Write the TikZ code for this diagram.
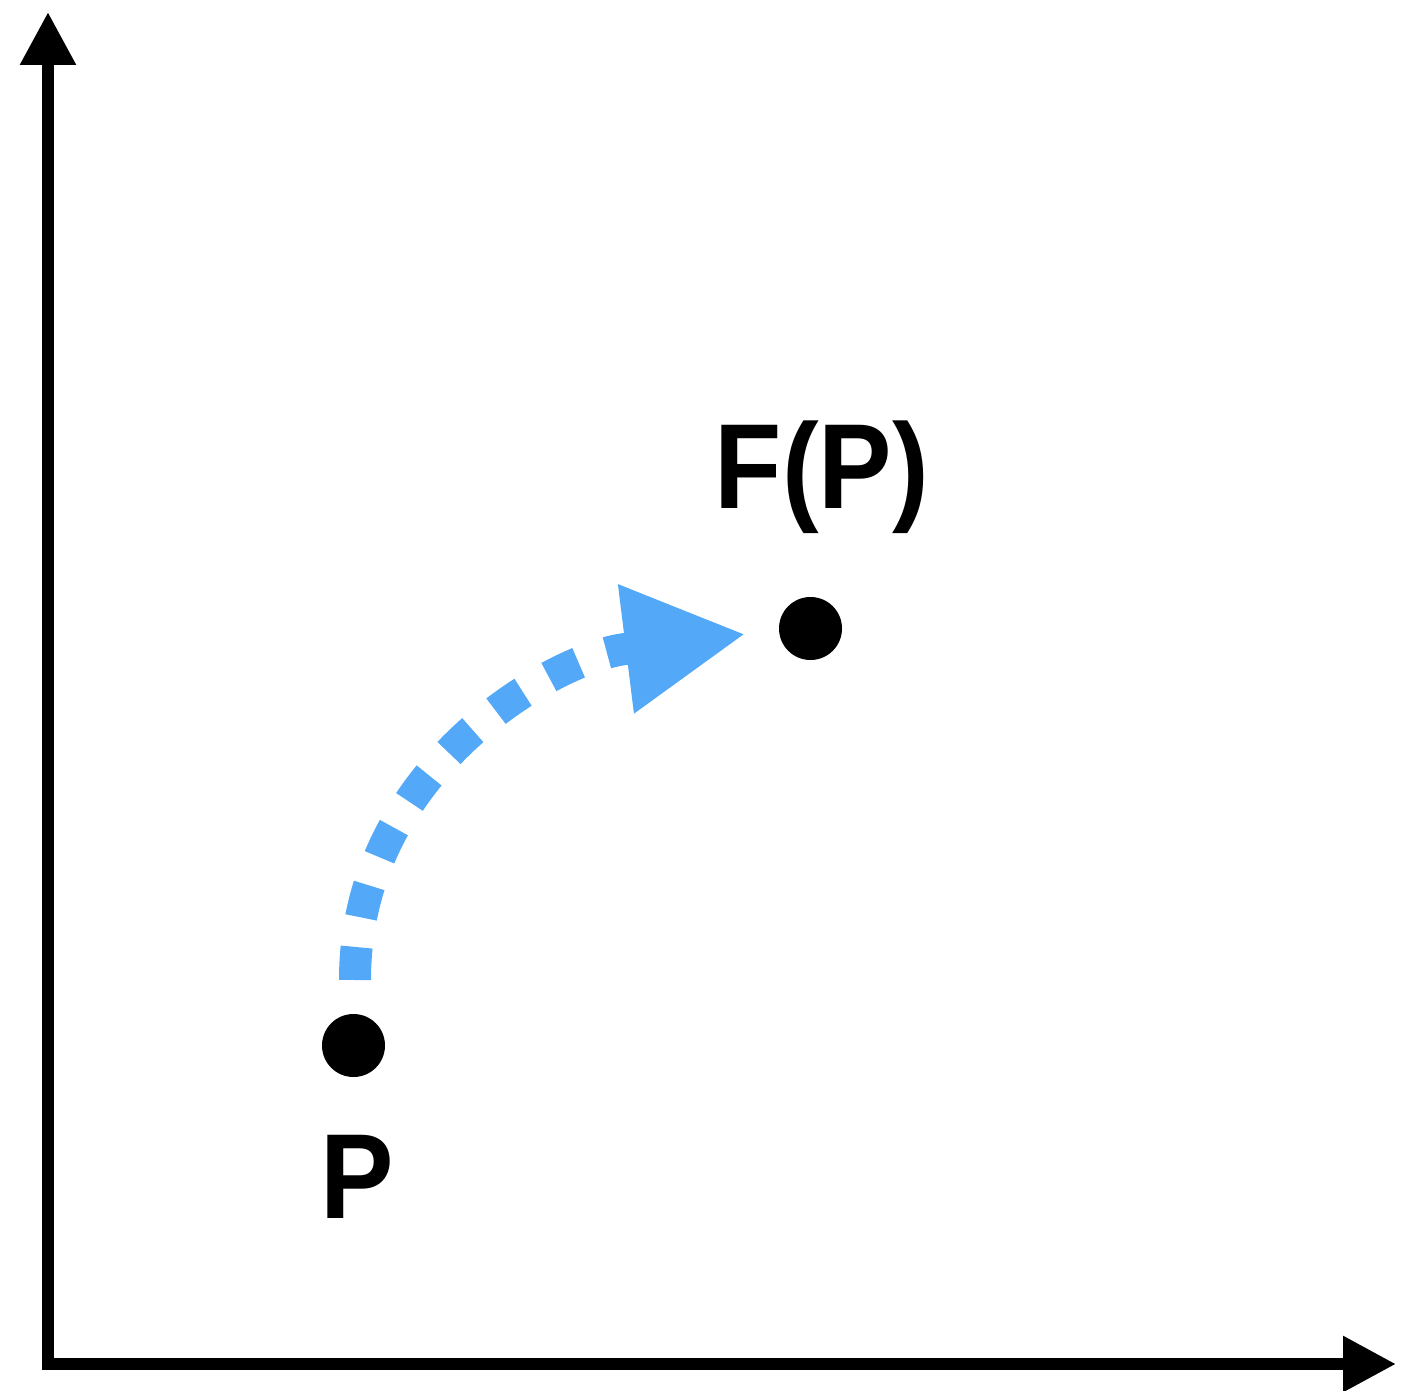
\documentclass[tikz,border=0pt]{standalone}
\usepackage{fontspec}
\setmainfont{Liberation Sans}
\newfontfamily\lblfont[FakeStretch=0.91]{Liberation Sans}
\usetikzlibrary{arrows.meta}
\definecolor{arcblue}{RGB}{84,168,248}
\begin{document}
\begin{tikzpicture}[x=1pt,y=-1pt,
  axis/.style={line width=12pt, -{Triangle[length=53pt,width=53pt]}},
  dot/.style={circle, fill=black, minimum size=63pt, inner sep=0pt},
  lbl/.style={font=\lblfont\bfseries\fontsize{121}{124}\selectfont, anchor=base, inner sep=0pt},
  flow/.style={arcblue, line width=32pt, dash pattern=on 33pt off 30pt, -{Triangle[length=121pt,width=121pt]}}]
\useasboundingbox (0,0) rectangle (1403,1391);
\coordinate (o) at (48,1364);
\coordinate (ytip) at (48,12);
\coordinate (xtip) at (1396,1364);
\draw[axis] ([yshift=-6pt]o) -- (ytip);
\draw[axis] ([xshift=-5pt]o) -- (xtip);
\node[dot] (p) at (353.5,1045.5) {};
\node[dot] (fp) at (810.5,628.5) {};
\node[lbl] (pl) at (357,1218) {P};
\node[lbl] (fpl) at (822,508) {F(P)};
\coordinate (cs) at (355,980);
\coordinate (cm) at (625,649);
\coordinate (ce) at (746,634);
\draw[flow] (cs) .. controls (355,768) and (555,658) .. (cm) -- (ce);
\end{tikzpicture}
\end{document}
